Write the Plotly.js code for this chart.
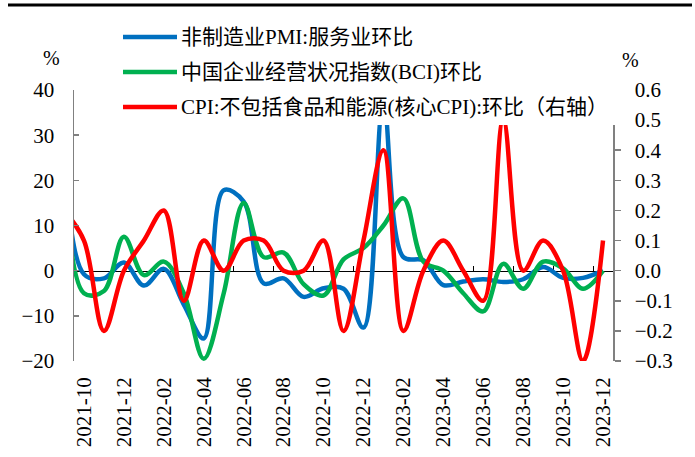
<!DOCTYPE html>
<html>
<head>
<meta charset="utf-8">
<script src="https://cdn.plot.ly/plotly-3.0.1.min.js"></script>
<style>html,body{margin:0;padding:0;background:#fff;}#chart{width:695px;height:457px;}</style>
</head>
<body>
<div id="chart"></div>
<script>
const months = ['2021-09','2021-10','2021-11','2021-12',
  '2022-01','2022-02','2022-03','2022-04','2022-05','2022-06','2022-07','2022-08','2022-09','2022-10','2022-11','2022-12',
  '2023-01','2023-02','2023-03','2023-04','2023-05','2023-06','2023-07','2023-08','2023-09','2023-10','2023-11','2023-12'];
const tickLabels = ['2021-10','2021-12','2022-02','2022-04','2022-06','2022-08','2022-10','2022-12',
  '2023-02','2023-04','2023-06','2023-08','2023-10','2023-12'];
const pmiServices = [28,-0.8,-1.7,1.8,-3.3,0.4,-7.5,-15.0,17.8,15.3,-2.8,-1.7,-5.8,-3.9,-4.0,-12.6,
  37.1,3.0,2.3,-3.2,-2.4,-1.9,-2.5,-1.9,0.8,-1.6,-1.6,0.0];
const bci = [30,-5,-4.5,7.5,-1,2,-5,-19.5,-5,15,3,4,-3,-5.5,2.5,5,
  10,16,2,0,-5,-9,1.5,-4,2,0.5,-4,0];
const coreCpi = [0.2,0.1,-0.2,0.0,0.1,0.2,-0.1,0.1,0.0,0.1,0.1,0.0,0.0,0.1,-0.2,0.1,
  0.4,-0.2,0.0,0.1,0.0,-0.1,0.5,0.0,0.1,0.0,-0.3,0.1];
const seriesNames = ['非制造业PMI:服务业环比','中国企业经营状况指数(BCI)环比','CPI:不包括食品和能源(核心CPI):环比（右轴）'];
const colors = ['#0070C0','#00B050','#FF0000'];

const FONT = 'Liberation Serif, Noto Sans CJK SC, serif';
const L = 74, R = 613, T = 90, B = 361, W = 695, H = 457;
const px = x => (x - L) / (R - L);
const py = y => (B - y) / (B - T);

const lineStyle = c => ({color: c, width: 4.5, shape: 'spline', smoothing: 1});
const traces = [
  {x: months, y: pmiServices, type: 'scatter', mode: 'lines', line: lineStyle(colors[0]), xaxis: 'x', yaxis: 'y', hoverinfo: 'skip'},
  {x: months, y: bci, type: 'scatter', mode: 'lines', line: lineStyle(colors[1]), xaxis: 'x', yaxis: 'y', hoverinfo: 'skip'},
  {x: months, y: coreCpi, type: 'scatter', mode: 'lines', line: lineStyle(colors[2]), xaxis: 'x', yaxis: 'y2', hoverinfo: 'skip'},
  {x: [], y: [], type: 'scatter', mode: 'lines', xaxis: 'x2', yaxis: 'y', hoverinfo: 'skip'}
];

const boundaryTicks = tickLabels.map(l => months.indexOf(l) - 0.5);
const xr = [months.indexOf(tickLabels[0]) - 0.5, months.length - 0.5];

const shapes = [
  {type: 'line', xref: 'paper', yref: 'paper', x0: px(8), x1: px(692), y0: py(5), y1: py(5), line: {color: '#000', width: 3}, layer: 'above'},
  {type: 'rect', xref: 'paper', yref: 'paper', x0: px(100), x1: px(624), y0: py(125), y1: py(14), fillcolor: '#fff', line: {width: 0}, layer: 'above'}
];
const annotations = [
  {xref: 'paper', yref: 'paper', x: px(51), y: py(58), xanchor: 'center', yanchor: 'middle', text: '%', showarrow: false, font: {family: FONT, size: 20, color: '#000'}},
  {xref: 'paper', yref: 'paper', x: px(630), y: py(60), xanchor: 'center', yanchor: 'middle', text: '%', showarrow: false, font: {family: FONT, size: 20, color: '#000'}}
];
const rowsY = [37, 72, 107];
seriesNames.forEach((n, i) => {
  shapes.push({type: 'line', xref: 'paper', yref: 'paper', x0: px(123), x1: px(177), y0: py(rowsY[i]), y1: py(rowsY[i]), line: {color: colors[i], width: 4.5}, layer: 'above'});
  annotations.push({xref: 'paper', yref: 'paper', x: px(179), y: py(rowsY[i]), xanchor: 'left', yanchor: 'middle', text: n, showarrow: false, font: {family: FONT, size: 21, color: '#000'}});
});

const layout = {
  width: W, height: H,
  margin: {l: L, r: W - R, t: T, b: H - B, pad: 0},
  paper_bgcolor: '#fff', plot_bgcolor: '#fff',
  showlegend: false,
  font: {family: FONT, size: 21, color: '#000'},
  xaxis: {type: 'category', categoryorder: 'array', categoryarray: months, range: xr,
    tickmode: 'array', tickvals: tickLabels, ticktext: tickLabels, tickangle: -90,
    ticks: '', showline: false, showgrid: false, zeroline: false, ticklabelstandoff: 11,
    tickfont: {family: FONT, size: 21, color: '#000'}},
  xaxis2: {type: 'linear', overlaying: 'x', anchor: 'free', position: 20/60, range: xr,
    tickmode: 'array', tickvals: boundaryTicks, showticklabels: false,
    ticks: 'inside', ticklen: 5, tickcolor: '#000', tickwidth: 1,
    showline: true, linecolor: '#000', linewidth: 1, showgrid: false, zeroline: false, layer: 'below traces'},
  yaxis: {range: [-20, 40], tickmode: 'linear', tick0: 0, dtick: 10,
    ticks: 'inside', ticklen: 5, tickcolor: '#808080', tickwidth: 1.5,
    showline: true, linecolor: '#808080', linewidth: 1.5, showgrid: false, zeroline: false,
    ticklabelstandoff: 14, tickfont: {family: FONT, size: 21, color: '#000'}},
  yaxis2: {range: [-0.3, 0.6], overlaying: 'y', side: 'right', anchor: 'x', tickmode: 'linear', tick0: 0, dtick: 0.1, tickformat: '.1f',
    ticks: 'outside', ticklen: 6, tickcolor: '#808080', tickwidth: 1.5,
    showline: true, linecolor: '#808080', linewidth: 1.5, showgrid: false, zeroline: false,
    ticklabelstandoff: 10, tickfont: {family: FONT, size: 21, color: '#000'}},
  shapes: shapes,
  annotations: annotations
};

Plotly.newPlot('chart', traces, layout, {staticPlot: true, displayModeBar: false});
</script>
</body>
</html>
